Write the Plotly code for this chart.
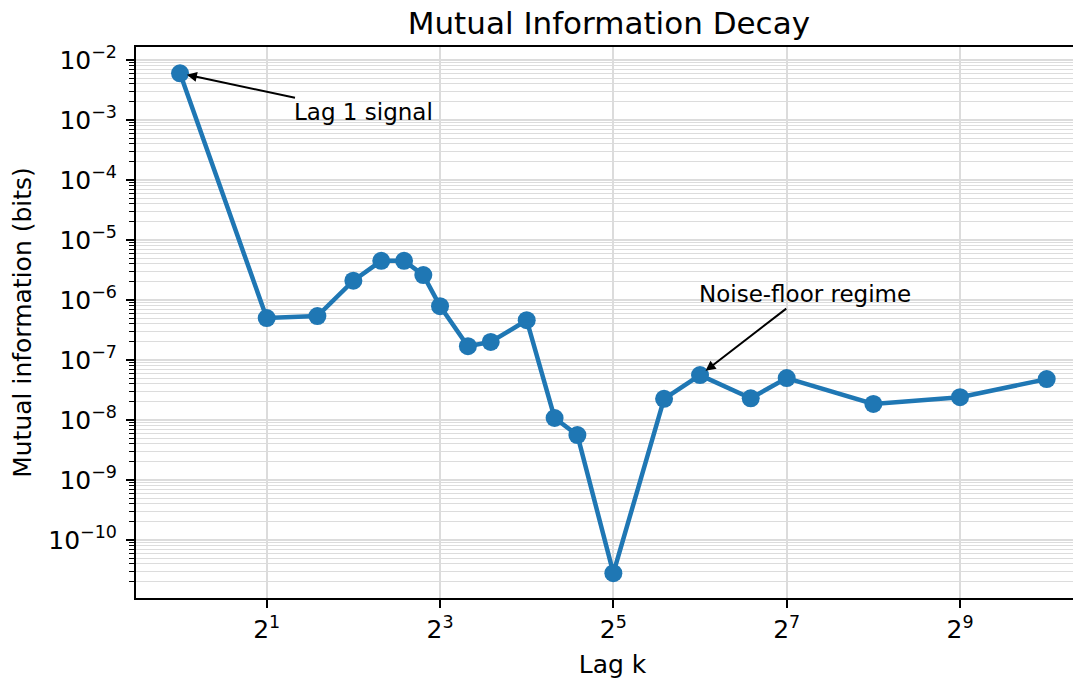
import math
import plotly.graph_objects as go

# Data
lags = [1, 2, 3, 4, 5, 6, 7, 8, 10, 12, 16, 20, 24, 32, 48, 64, 96, 128, 256, 512, 1024]
mi_bits = [6.0e-3, 5.0e-7, 5.4e-7, 2.1e-6, 4.5e-6, 4.5e-6, 2.6e-6, 7.9e-7, 1.7e-7, 2.0e-7,
           4.6e-7, 1.08e-8, 5.6e-9, 2.8e-11, 2.25e-8, 5.6e-8, 2.3e-8, 5.0e-8, 1.85e-8, 2.4e-8, 4.8e-8]

x_tick_exps = [1, 3, 5, 7, 9]
y_tick_exps = [-2, -3, -4, -5, -6, -7, -8, -9, -10]

x_tickvals = [2 ** e for e in x_tick_exps]
x_ticktext = [f"2<sup>{e}</sup>" for e in x_tick_exps]
y_tickvals = [10.0 ** e for e in y_tick_exps]
y_ticktext = [f"10<sup>\u2212{-e}</sup>" for e in y_tick_exps]
y_minor = [m * 10.0 ** e for e in range(-11, -1) for m in range(2, 10)]

FONT = "DejaVu Sans"
BLUE = "#1f77b4"
GRID = "#dcdcdc"

fig = go.Figure()
fig.add_trace(go.Scatter(
    x=lags, y=mi_bits, mode="lines+markers",
    line=dict(color=BLUE, width=4.5),
    marker=dict(color=BLUE, size=18),
    showlegend=False,
))

fig.add_annotation(
    x=math.log10(lags[0]), y=math.log10(mi_bits[0]), xref="x", yref="y",
    text="Lag 1 signal", showarrow=True, ax=183, ay=39,
    arrowhead=2, arrowsize=1, arrowwidth=2, arrowcolor="black", standoff=7,
    font=dict(family=FONT, size=23, color="black"),
)
fig.add_annotation(
    x=math.log10(lags[15]), y=math.log10(mi_bits[15]), xref="x", yref="y",
    text="Noise-floor regime", showarrow=True, ax=105, ay=-81,
    arrowhead=2, arrowsize=1, arrowwidth=2, arrowcolor="black", standoff=7,
    font=dict(family=FONT, size=23, color="black"),
)

l2 = math.log10(2)
H = 673
W = 1081
fig.update_layout(
    width=W, height=H,
    margin=dict(l=128, r=0, t=39, b=83),
    paper_bgcolor="white", plot_bgcolor="white",
    font=dict(family=FONT, color="black"),
    title=dict(text="Mutual Information Decay", x=0.4962, xref="paper",
               y=1 - 15 / H, yref="container", yanchor="middle", xanchor="center",
               font=dict(family=FONT, size=31, color="black")),
    xaxis=dict(
        type="log", range=[-0.508 * l2, 10.488 * l2],
        tickvals=x_tickvals, ticktext=x_ticktext,
        ticks="outside", ticklen=8, tickwidth=1.5, tickcolor="black",
        showline=True, linecolor="black", linewidth=2, mirror=True,
        showgrid=True, gridcolor=GRID, gridwidth=1.5, zeroline=False,
        tickfont=dict(family=FONT, size=25, color="black"),
        title=dict(text="Lag k", font=dict(family=FONT, size=25, color="black"), standoff=12),
    ),
    yaxis=dict(
        type="log", range=[-10.967, -1.783],
        tickvals=y_tickvals, ticktext=y_ticktext,
        ticks="outside", ticklen=8, tickwidth=1.5, tickcolor="black",
        ticklabelstandoff=4,
        showline=True, linecolor="black", linewidth=2, mirror=False,
        showgrid=True, gridcolor=GRID, gridwidth=1.5, zeroline=False,
        tickfont=dict(family=FONT, size=25, color="black"),
        minor=dict(tickvals=y_minor, ticks="outside", ticklen=5, tickwidth=1,
                   tickcolor="black", showgrid=True, gridcolor=GRID, gridwidth=1.2),
        title=dict(text="Mutual information (bits)", font=dict(family=FONT, size=25, color="black"), standoff=12),
    ),
)

fig.write_html("out.html")
